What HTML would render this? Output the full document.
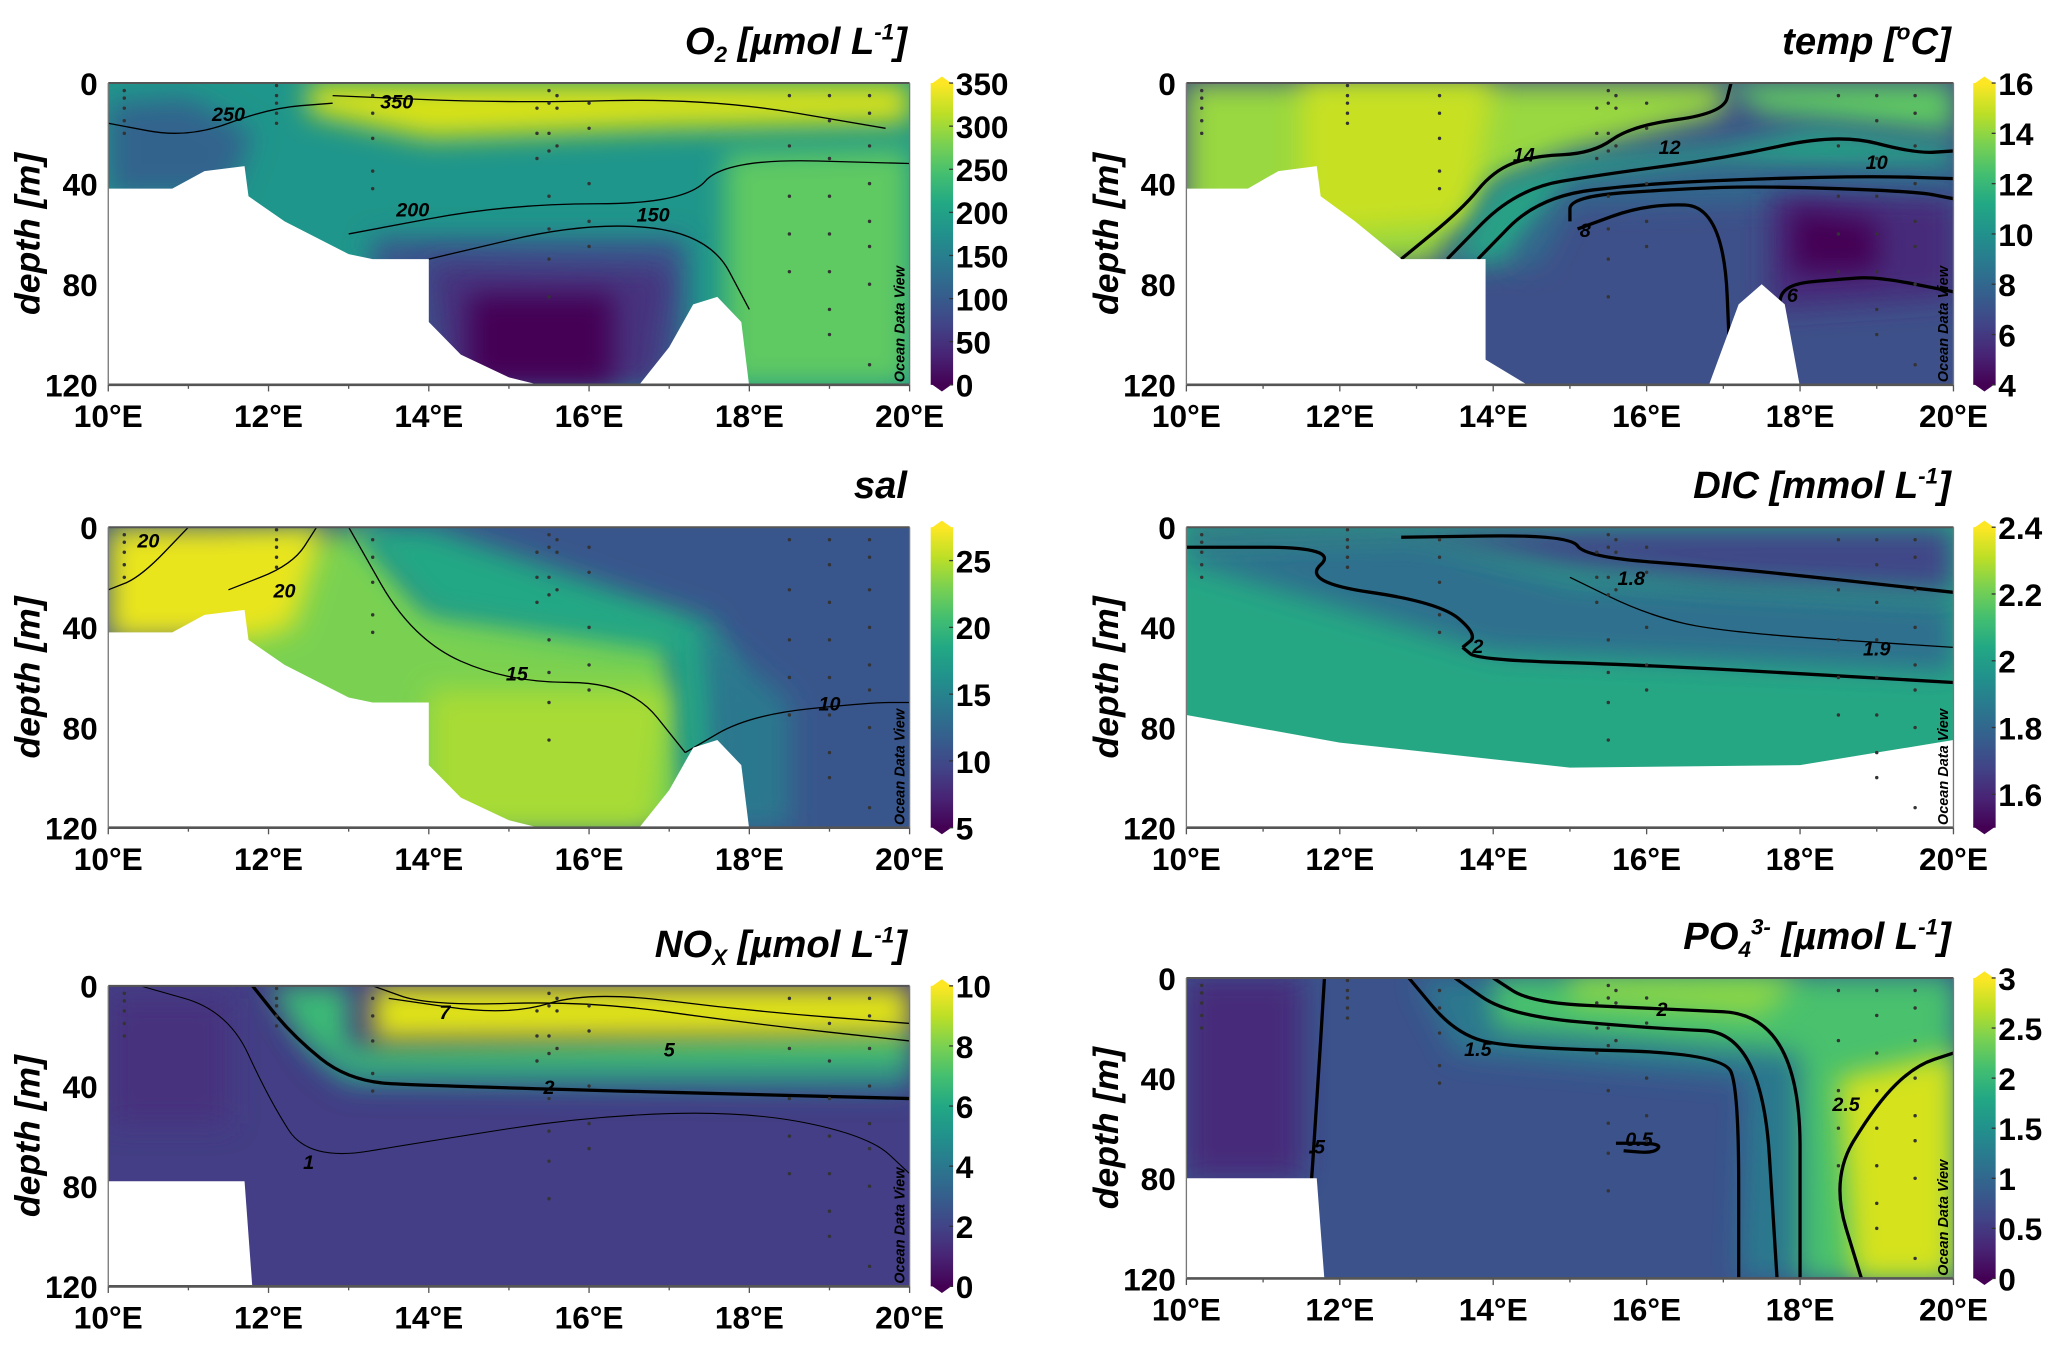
<!DOCTYPE html>
<html><head><meta charset="utf-8"><style>
html,body{margin:0;padding:0;background:#fff}
svg{display:block}
text{font-family:"Liberation Sans Narrow","Liberation Sans",sans-serif;font-weight:bold;fill:#000}
</style></head><body>
<svg id="fig" width="2067" height="1347" viewBox="0 0 1568 1022" xmlns="http://www.w3.org/2000/svg">
<defs>
<linearGradient id="vir" x1="0" y1="1" x2="0" y2="0">
<stop offset="0" stop-color="#440154"/><stop offset="0.1" stop-color="#482475"/><stop offset="0.2" stop-color="#414487"/><stop offset="0.3" stop-color="#355f8d"/><stop offset="0.4" stop-color="#2a788e"/><stop offset="0.5" stop-color="#21918c"/><stop offset="0.6" stop-color="#22a884"/><stop offset="0.7" stop-color="#44bf70"/><stop offset="0.8" stop-color="#7ad151"/><stop offset="0.9" stop-color="#bddf26"/><stop offset="1" stop-color="#fde725"/>
</linearGradient>
<filter id="blur" filterUnits="userSpaceOnUse" x="0" y="0" width="1568" height="1022"><feGaussianBlur stdDeviation="10"/></filter>
</defs>
</svg>
<script>
const NS="http://www.w3.org/2000/svg";
const svg=document.getElementById('fig');
// ---- data arrays ----
const xTickLabels=["10°E","12°E","14°E","16°E","18°E","20°E"];
const xTickValues=[10,12,14,16,18,20];
const yTickValues=[0,40,80,120];
const o2Ticks=[0,50,100,150,200,250,300,350];
const tempTicks=[4,6,8,10,12,14,16];
const salTicks=[5,10,15,20,25];
const dicTicks=[1.6,1.8,2,2.2,2.4];
const noxTicks=[0,2,4,6,8,10];
const po4Ticks=[0,0.5,1,1.5,2,2.5,3];
const stationLon=[10.2,12.1,13.3,15.35,15.5,15.6,16,18.5,19,19.5];
const stationDepth=[[3,6,10,15,20],[1,5,8,12,16],[5,12,22,35,42],[10,20,30],[3,8,20,27,45,58,70,85],[5,10,25],[8,18,40,55,65],[5,25,45,60,75],[5,15,30,45,60,75,90,100],[5,12,25,40,55,65,80,112]];

function el(tag,attrs,parent,txt){const e=document.createElementNS(NS,tag);for(const k in attrs)e.setAttribute(k,attrs[k]);if(txt!==undefined)e.textContent=txt;(parent||svg).appendChild(e);return e;}

const panels=[
 {id:'o2',x:82,y:63,w:608,h:229,cb:706,ticks:o2Ticks,cmin:0,cmax:350,
  base:'#1f968b',
  layers:[['#d8e219',[[12.5,0],[20,0],[20,16],[17,18],[14,22],[12.5,12]]],
   ['#33638d',[[10,8],[11,6],[11.8,20],[11.5,45],[10,45]]],
   ['#5ec962',[[17.7,28],[20,26],[20,120],[17.7,120]]],
   ['#3b528b',[[13.3,62],[17.2,62],[17.2,120],[13.3,120]]],
   ['#46327e',[[14,72],[17,74],[16.8,120],[14.2,120]]],
   ['#440154',[[14.5,84],[16.3,84],[16.3,120],[14.5,120]]]],
  mask:[[[10,42],[10.8,42],[11.2,35],[11.7,33],[11.75,45],[12.2,55],[13,68],[13.3,70],[14,70],[14,95],[14.4,108],[15,117],[15.5,121],[10,121]],[[16.6,121],[17.0,105],[17.3,88],[17.6,85],[17.9,95],[18.0,121]]],
  lines:[[[[10,16],[11,22],[12,10],[12.8,8]],1,'250',11.5,12],[[[12.8,5],[15,8],[17.5,6],[19.7,18]],1,'350',13.6,7],[[[13,60],[15,48],[17.2,48],[17.7,30],[20,32]],1,'200',13.8,50],[[[14,70],[16,55],[17.5,60],[18,90]],1,'150',16.8,52]],
  title:[['O',0],['2',-1],[' [µmol L',0],['-1',1],[']',0]]},
 {id:'temp',x:900,y:63,w:582,h:229,cb:1497,ticks:tempTicks,cmin:4,cmax:16,
  base:'#3e5089',
  layers:[['#99d83f',[[10,0],[17,0],[17,12],[15,28],[14,40],[13.2,72],[10,72]]],
   ['#5ec962',[[17,0],[20,0],[20,20],[17.5,12]]],
   ['#c8e020',[[11.5,0],[14,0],[13.7,55],[11.5,60]]],
   ['#25a386',[[13.4,72],[14,40],[15,30],[17,25],[18.2,18],[20,25],[20,35],[17,33],[15,40],[14.2,72]]],
   ['#2f6d8e',[[14.2,72],[15,42],[17,36],[20,36],[20,45],[15,48],[14.6,72]]],
   ['#472c7a',[[17.6,44],[20,46],[20,85],[17.6,90]]],
   ['#440154',[[17.9,50],[19,55],[19,75],[17.9,75]]]],
  mask:[[[10,42],[10.8,42],[11.2,35],[11.7,33],[11.75,45],[12.2,55],[12.8,70],[13.9,70],[13.9,110],[14.5,121],[10,121]],[[16.8,121],[17.2,88],[17.5,80],[17.8,88],[18,121]]],
  lines:[[[[12.8,70],[13.6,50],[14,35],[14.5,29],[15.3,28],[15.8,17],[17,12],[17.1,0]],2.5,'14',14.4,28],[[[13.4,70],[14.3,42],[15.5,36],[17,30],[18.5,20],[19.5,28],[20,27]],2.5,'12',16.3,25],[[[13.8,70],[14.6,45],[16,40],[17.5,38],[19,37],[20,38]],2.5,'10',19,31],[[[15,55],[15,45],[16.5,42],[17.5,41],[19.5,43],[20,46]],2.5,'',0,0],[[[15.1,58],[16,48],[17,49],[17.1,120]],2.5,'8',15.2,58],[[[17.9,120],[17.7,90],[17.8,80],[18.5,78],[19,77],[20,83]],2.5,'6',17.9,84]],
  title:[['temp [',0],['o',1],['C]',0]]},
 {id:'sal',x:82,y:400,w:608,h:228,cb:706,ticks:salTicks,cmin:5,cmax:27.5,
  base:'#39568c',
  layers:[['#7ad151',[[11.5,10],[13.2,0],[14,30],[17,40],[17.3,120],[11.5,120]]],
   ['#22a884',[[13,0],[14,0],[17.5,38],[17.8,60],[17.5,120],[17.2,120],[17,50],[14,35]]],
   ['#e9e51a',[[10,0],[12.7,0],[12.3,40],[11.7,45],[10,45]]],
   ['#a8db34',[[14,65],[17,65],[16.8,120],[14,120]]],
   ['#2a788e',[[17.4,40],[18.5,70],[18.5,120],[17.6,120]]]],
  mask:[[[10,42],[10.8,42],[11.2,35],[11.7,33],[11.75,45],[12.2,55],[13,68],[13.3,70],[14,70],[14,95],[14.4,108],[15,117],[15.5,121],[10,121]],[[16.6,121],[17.0,105],[17.3,88],[17.6,85],[17.9,95],[18.0,121]]],
  lines:[[[[11,0],[10.4,20],[10,25]],1,'20',10.5,5],[[[12.6,0],[12.3,15],[11.5,25]],1,'20',12.2,25],[[[13,0],[13.8,45],[15,62],[16.5,62],[17.2,90]],1,'15',15.1,58],[[[17.2,90],[18,75],[19.5,70],[20,70]],1,'10',19,70]],
  title:[['sal',0]]},
 {id:'dic',x:900,y:400,w:582,h:228,cb:1497,ticks:dicTicks,cmin:1.5,cmax:2.4,
  base:'#26a784',
  layers:[['#2e6f8e',[[10,8],[13,5],[15,22],[20,30],[20,58],[14,50],[10,14]]],
   ['#404688',[[10,0],[20,0],[20,26],[17,22],[15,16],[13,4],[10,5]]]],
  mask:[[[10,75],[12,86],[15,96],[18,95],[20,85],[20,121],[10,121]]],
  lines:[[[[10,8],[12,8],[11.5,22],[13.3,30],[13.8,43],[13.6,48]],2.5,'2',13.8,47],[[[13.6,48],[13.8,53],[16,55],[20,62]],2.5,'',0,0],[[[12.8,4],[15,3],[15.2,12],[17,16],[20,26]],2.5,'1.8',15.8,20],[[[15,20],[16,35],[17,42],[20,48]],1,'1.9',19,48]],
  title:[['DIC [mmol L',0],['-1',1],[']',0]]},
 {id:'nox',x:82,y:748,w:608,h:228,cb:706,ticks:noxTicks,cmin:0,cmax:10,
  base:'#433e85',
  layers:[['#46307e',[[10,5],[11.5,5],[11.5,55],[10,55]]],
   ['#2a788e',[[12.2,10],[12.6,30],[13,40],[20,42],[20,30],[13,28]]],
   ['#3aba76',[[12,0],[13,0],[13,25],[20,18],[20,35],[13,35],[12.4,20]]],
   ['#e0e318',[[13.3,0],[20,0],[20,20],[13.3,22]]]],
  mask:[[[10,78],[11.7,78],[11.8,121],[10,121]]],
  lines:[[[[11.8,0],[12.3,20],[13,38],[14,40],[20,45]],2.5,'2',15.5,40],[[[13.3,0],[14,8],[16,6],[18,15],[20,22]],1,'5',17,25],[[[13.5,5],[15,12],[16,2],[18,10],[20,15]],1,'7',14.2,10],[[[10.4,0],[11.5,10],[12,45],[12.5,70],[14,62],[16,52],[18,50],[19.5,60],[20,75]],0.8,'1',12.5,70]],
  title:[['NO',0],['X',-1],[' [µmol L',0],['-1',1],[']',0]]},
 {id:'po4',x:900,y:742,w:582,h:228,cb:1497,ticks:po4Ticks,cmin:0,cmax:3,
  base:'#3b528b',
  layers:[['#472c7a',[[10,0],[11.5,0],[11.5,80],[10,80]]],
   ['#2a788e',[[13,0],[20,0],[20,120],[17.2,120],[17.3,40],[13.5,30]]],
   ['#4ac16d',[[14,0],[20,0],[20,120],[18,120],[18,30],[14,20]]],
   ['#8fd744',[[15,0],[18,0],[17.5,15],[15,10]]],
   ['#d5e21a',[[18.5,40],[20,30],[20,120],[18.7,120]]]],
  mask:[[[10,80],[11.7,80],[11.8,121],[10,121]]],
  lines:[[[[11.8,0],[11.7,50],[11.6,95],[11.5,120]],2.5,'.5',11.7,67],[[[12.9,0],[13.5,22],[14.2,28],[17,30],[17.2,45],[17.2,120]],2.5,'1.5',13.8,28],[[[13.5,0],[14.2,15],[16,20],[17.5,22],[17.7,120]],2.5,'',0,0],[[[14,0],[14.5,10],[16,12],[18,15],[18,120]],2.5,'2',16.2,12],[[[15.6,66],[16.2,66],[16.1,70],[15.7,69]],2.5,'0.5',15.9,64],[[[18.8,120],[18.4,80],[19,50],[19.5,35],[20,30]],2.5,'2.5',18.6,50]],
  title:[['PO',0],['4',-1],['3-',1],[' [µmol L',0],['-1',1],[']',0]]}
];

function panel(p){
 const g=el('g',{});
 const X=lon=>p.x+(lon-10)/10*p.w, Y=d=>p.y+d/120*p.h;
 const path=pts=>'M'+pts.map(q=>X(q[0]).toFixed(1)+','+Y(q[1]).toFixed(1)).join('L')+'Z';
 const open=pts=>{let s='M'+X(pts[0][0])+','+Y(pts[0][1]);for(let i=1;i<pts.length;i++){const a=pts[i-1],b=pts[i];const mx=(X(a[0])+X(b[0]))/2,my=(Y(a[1])+Y(b[1]))/2;s+=' Q'+X(a[0])+','+Y(a[1])+' '+mx+','+my;}const l=pts[pts.length-1];return s+' L'+X(l[0])+','+Y(l[1]);};
 el('clipPath',{id:'c'+p.id},g);
 el('rect',{x:p.x,y:p.y,width:p.w,height:p.h},g.lastChild);
 const field=el('g',{'clip-path':'url(#c'+p.id+')',},g);
 el('rect',{x:p.x,y:p.y,width:p.w,height:p.h,fill:p.base},field);
 p.layers.forEach(l=>el('path',{d:path(l[1]),fill:l[0],filter:'url(#blur)'},field));
 p.lines.forEach(l=>{
  const c=el('path',{d:open(l[0]),fill:'none',stroke:'#000','stroke-width':l[1]},field);
  
  
  if(l[2]){const t=el('text',{x:X(l[3]),y:Y(l[4])+6,'font-size':15,'font-style':'italic','text-anchor':'middle'},field,l[2]);}
 });
 p.mask.forEach(m=>el('path',{d:path(m),fill:'#fff'},field));
 stationLon.forEach((lon,i)=>stationDepth[i].forEach(d=>{
  const c=el('circle',{cx:X(lon),cy:Y(d),r:1.3,fill:'#333'},field);
  
  
 }));
 el('text',{transform:'translate('+(p.x+p.w-4)+','+(p.y+p.h-2)+') rotate(-90)','font-size':11,'font-style':'italic','font-weight':'normal'},g,'Ocean Data View');
 el('line',{x1:p.x,y1:p.y,x2:p.x+p.w,y2:p.y,stroke:'#555','stroke-width':1.5},g);
 el('line',{x1:p.x,y1:p.y+p.h,x2:p.x+p.w,y2:p.y+p.h,stroke:'#555','stroke-width':2},g);
 el('line',{x1:p.x,y1:p.y,x2:p.x,y2:p.y+p.h,stroke:'#777','stroke-width':1},g);
 el('line',{x1:p.x+p.w,y1:p.y,x2:p.x+p.w,y2:p.y+p.h,stroke:'#777','stroke-width':1},g);
 for(let v=10;v<=20;v++){el('line',{x1:X(v),y1:p.y+p.h,x2:X(v),y2:p.y+p.h+(v%2?3:5),stroke:'#555'},g);}
 xTickValues.forEach((v,i)=>{const t=el('text',{x:X(v),y:p.y+p.h+32,'font-size':24,'text-anchor':'middle'},g,xTickLabels[i]);});
 yTickValues.forEach(v=>{const t=el('text',{x:p.x-8,y:Y(v)+9,'font-size':24,'text-anchor':'end'},g,v);});
 const yt=el('text',{transform:'translate('+(p.x-52)+','+(p.y+p.h/2)+') rotate(-90)','font-size':27,'font-style':'italic','text-anchor':'middle','font-family':'Liberation Sans'},g,'depth [m]');
 
 const tt=el('text',{x:p.x+p.w-2,y:p.y-22,'font-size':29,'font-style':'italic','text-anchor':'end','font-family':'Liberation Sans'},g);
 
 p.title.forEach(s=>{const ts=el('tspan',s[1]?{'font-size':17,dy:s[1]>0?-11:6}:{},tt,s[1]===-1?s[0]:s[0]);
   if(s[1]){/* reset baseline after */ts._shift=s[1];}});
 // fix baseline resets
 let acc=0;Array.from(tt.childNodes).forEach(ts=>{const d=ts._shift?(ts._shift>0?-11:6):0;const need=d-acc;ts.setAttribute('dy',need);acc=d;});
 const cb=el('g',{},g);
 el('rect',{x:p.cb,y:p.y,width:17,height:p.h,fill:'url(#vir)'},cb);
 el('path',{d:`M${p.cb},${p.y+1}L${p.cb+8.5},${p.y-5}L${p.cb+17},${p.y+1}Z`,fill:'#fde725'},cb);
 el('path',{d:`M${p.cb},${p.y+p.h-1}L${p.cb+8.5},${p.y+p.h+5}L${p.cb+17},${p.y+p.h-1}Z`,fill:'#440154'},cb);
 p.ticks.forEach(v=>{const yy=p.y+p.h-(v-p.cmin)/(p.cmax-p.cmin)*p.h;
  el('line',{x1:p.cb+14,y1:yy,x2:p.cb+17,y2:yy,stroke:'#333'},cb);
  const t=el('text',{x:p.cb+19,y:yy+9,'font-size':24},cb,v);});
}
panels.forEach(panel);
</script>
</body></html>
